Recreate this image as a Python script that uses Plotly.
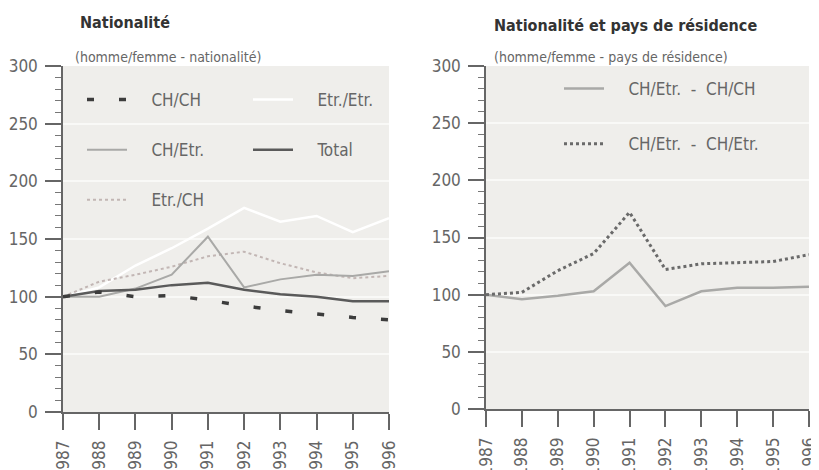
import plotly.graph_objects as go

years = [1987, 1988, 1989, 1990, 1991, 1992, 1993, 1994, 1995, 1996]

# Nationalité (homme/femme - nationalité), indice 1987 = 100
ch_ch = [100, 104, 100, 101, 97, 92, 88, 85, 82, 80]
etr_etr = [100, 108, 127, 142, 159, 177, 165, 170, 156, 168]
ch_etr = [100, 100, 107, 119, 152, 108, 115, 119, 118, 122]
total = [100, 105, 106, 110, 112, 106, 102, 100, 96, 96]
etr_ch = [100, 113, 119, 126, 135, 139, 129, 121, 116, 118]

# Nationalité et pays de résidence (homme/femme - pays de résidence)
res_ch_ch = [100, 96, 99, 103, 128, 90, 103, 106, 106, 107]
res_ch_etr = [100, 102, 121, 136, 172, 122, 127, 128, 129, 135]

FONT = "Liberation Sans Narrow, DejaVu Sans Condensed, Arial Narrow, Liberation Sans, sans-serif"
NB = "\u00a0" * 4
W, H = 819, 470
# the page body has an 8px margin, so positions below are in figure pixels
def px(x):
    return x / W

def py(y):
    return 1 - y / H

fig = go.Figure()

# left chart: the white line is drawn first so the others sit on top
left = [
    ("Etr./Etr.", etr_etr, dict(color="white", width=2.5), "legend2"),
    ("Etr./CH", etr_ch, dict(color="#c2b6b4", width=2, dash="dot"), "legend"),
    ("CH/Etr.", ch_etr, dict(color="#a9a9a7", width=2), "legend"),
    ("Total", total, dict(color="#5a5a5a", width=2.5), "legend2"),
    ("CH/CH", ch_ch, dict(color="#3c3c3c", width=3.5, dash="7px,25px"), "legend"),
]
order = {"CH/CH": 1, "CH/Etr.": 2, "Etr./CH": 3, "Etr./Etr.": 1, "Total": 2}
for name, vals, line, leg in left:
    fig.add_trace(go.Scatter(x=years, y=vals, name=NB + name, mode="lines",
                             line=line, legend=leg, legendgroup=name,
                             legendrank=order[name], xaxis="x", yaxis="y"))

fig.add_trace(go.Scatter(x=years, y=res_ch_ch, name=NB + "CH/Etr.  -  CH/CH", mode="lines",
                         line=dict(color="#a9a9a7", width=2.5), legend="legend3",
                         legendgroup="r1", legendrank=1, xaxis="x2", yaxis="y2"))
fig.add_trace(go.Scatter(x=years, y=res_ch_etr, name=NB + "CH/Etr.  -  CH/Etr.", mode="lines",
                         line=dict(color="#6a6a6a", width=3, dash="dot"), legend="legend3",
                         legendgroup="r2", legendrank=2, xaxis="x2", yaxis="y2"))

xcommon = dict(range=[1987, 1996], tickvals=years, tickangle=-90, showgrid=False,
               ticks="outside", ticklen=16, tickcolor="#666", tickwidth=1.5,
               showline=True, linecolor="#666", linewidth=1.5, zeroline=False,
               tickfont=dict(family=FONT, size=17, color="#666"),
               ticklabelstandoff=4, automargin=False)
ycommon = dict(range=[0, 300], dtick=50, showgrid=True, gridcolor="#f9f9f7", gridwidth=1.5,
               ticks="outside", ticklen=16, tickcolor="#666", tickwidth=1.5,
               showline=True, linecolor="#666", linewidth=1.5, zeroline=False,
               minor=dict(dtick=10, ticks="outside", ticklen=6, tickcolor="#777", tickwidth=1),
               tickfont=dict(family=FONT, size=17, color="#666"),
               ticklabelstandoff=4, automargin=False)

legcommon = dict(orientation="v", xanchor="left", yanchor="top", bgcolor="rgba(0,0,0,0)",
                 font=dict(family=FONT, size=17, color="#666"),
                 itemwidth=40, traceorder="grouped")

fig.update_layout(
    width=W, height=H,
    margin=dict(l=0, r=0, t=0, b=0),
    paper_bgcolor="white",
    plot_bgcolor="#efeeeb",
    showlegend=True,
    xaxis=dict(domain=[px(55), px(381)], anchor="y", **xcommon),
    yaxis=dict(domain=[py(404), py(58)], anchor="x", **ycommon),
    xaxis2=dict(domain=[px(478), px(801)], anchor="y2", **xcommon),
    yaxis2=dict(domain=[py(401), py(58)], anchor="x2", **ycommon),
    legend=dict(x=px(74), y=py(74), tracegroupgap=25, **legcommon),
    legend2=dict(x=px(240), y=py(74), tracegroupgap=25, **legcommon),
    legend3=dict(x=px(551), y=py(63), tracegroupgap=30, **legcommon),
    annotations=[
        dict(text="<b>Nationalité</b>", x=px(70), y=py(15), xref="paper", yref="paper",
             xanchor="left", yanchor="middle", showarrow=False,
             font=dict(family=FONT, size=16, color="#333")),
        dict(text="(homme/femme - nationalité)", x=px(65), y=py(49), xref="paper", yref="paper",
             xanchor="left", yanchor="middle", showarrow=False,
             font=dict(family=FONT, size=14, color="#666")),
        dict(text="<b>Nationalité et pays de résidence</b>", x=px(484), y=py(17),
             xref="paper", yref="paper", xanchor="left", yanchor="middle", showarrow=False,
             font=dict(family=FONT, size=16, color="#333")),
        dict(text="(homme/femme - pays de résidence)", x=px(484), y=py(49),
             xref="paper", yref="paper", xanchor="left", yanchor="middle", showarrow=False,
             font=dict(family=FONT, size=14, color="#666")),
    ],
)

fig.write_html("out.html")
